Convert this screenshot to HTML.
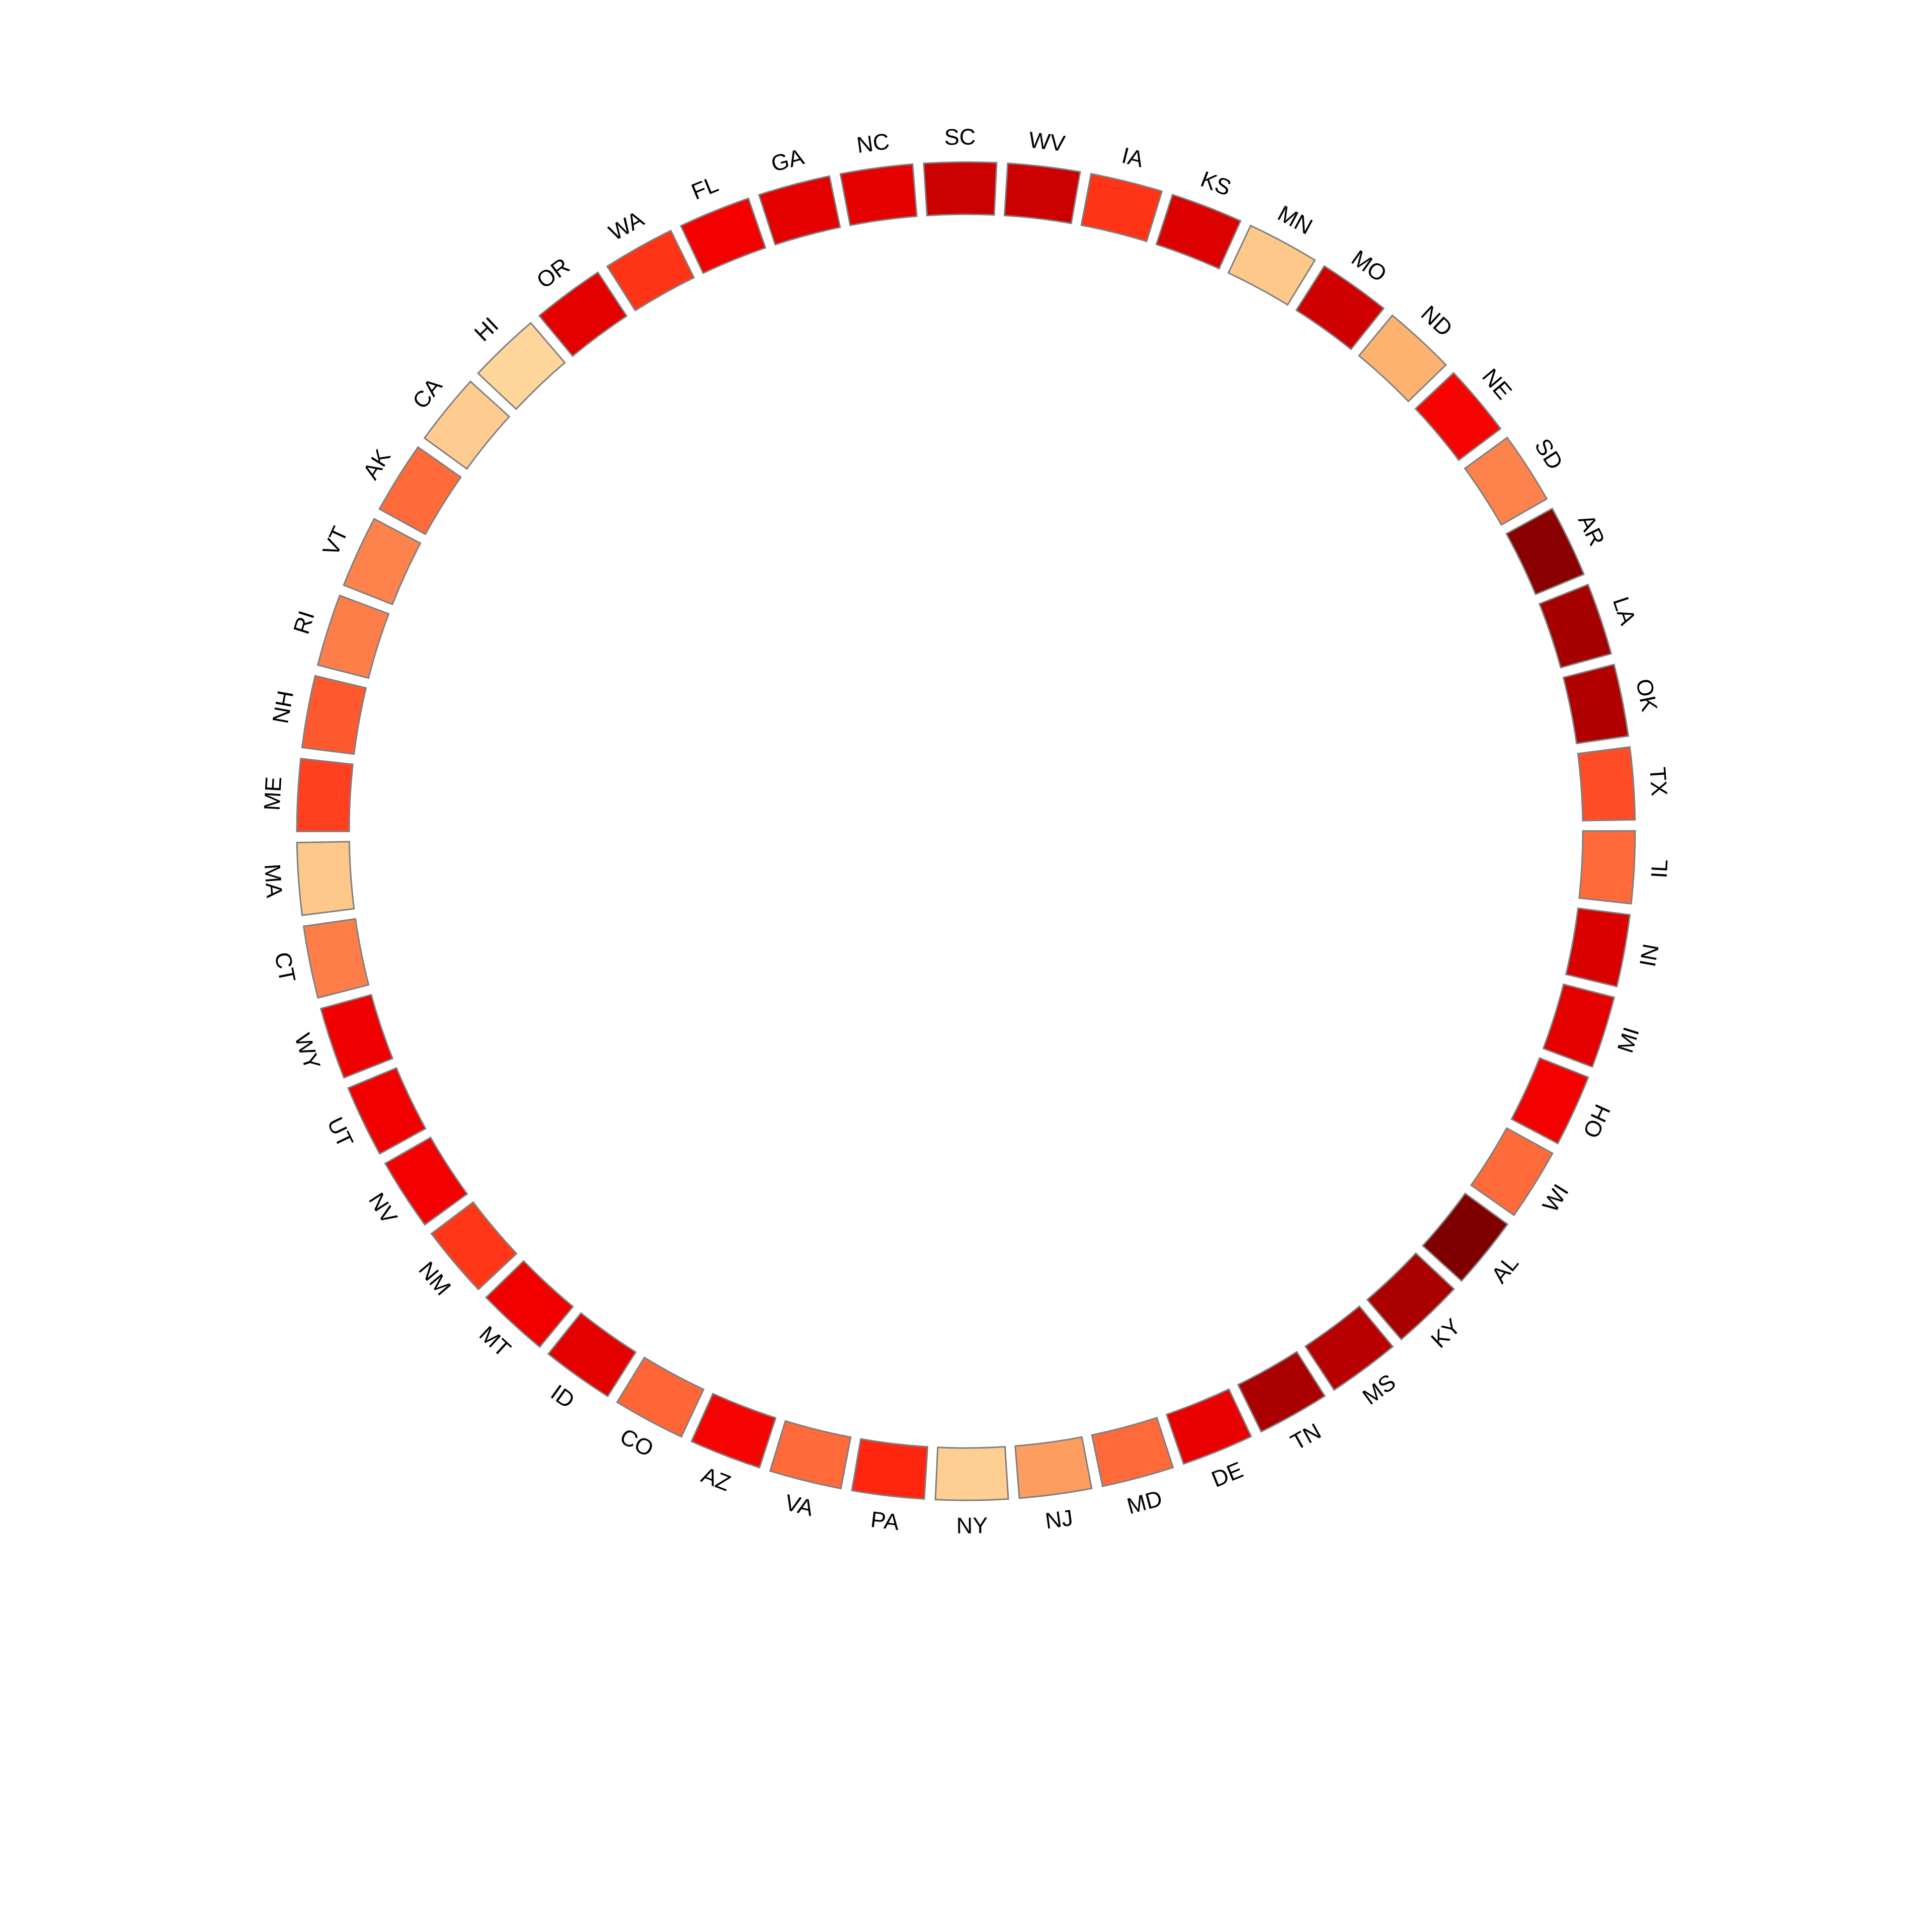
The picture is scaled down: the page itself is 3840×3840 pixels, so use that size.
<!DOCTYPE html>
<html><head><meta charset="utf-8"><style>
html,body{margin:0;padding:0;background:#fff;}
svg{display:block;}
text{font-family:"Liberation Sans",Arial,sans-serif;}
</style></head>
<body>
<svg id="chart" width="3840" height="3840" viewBox="0 0 3840 3840" xmlns="http://www.w3.org/2000/svg">
<rect width="3840" height="3840" fill="#ffffff"/>
<g id="ring"></g>
<g id="labels"></g>
</svg>
<script>
const states = ["SC","WV","IA","KS","MN","MO","ND","NE","SD","AR","LA","OK","TX","IL","IN","MI","OH","WI","AL","KY","MS","TN","DE","MD","NJ","NY","PA","VA","AZ","CO","ID","MT","NM","NV","UT","WY","CT","MA","ME","NH","RI","VT","AK","CA","HI","OR","WA","FL","GA","NC"];
const values = [80,80,53,74,8,78,18,64,33,97,90,87,47,40,75,71,65,40,100,89,85,89,69,40,25,5,56,40,64,41,71,66,52,65,66,67,34,8,50,44,34,33,40,6,2,71,53,65,71,71];
const colorStops = [0,20,40,55,65,80,100];
const colorHex = ["#fed9a0","#fdae6b","#fe6a3a","#ff2a10","#f50000","#cc0000","#800000"];

const CX=1920, CY=1652, R_OUT=1330, R_IN=1226, R_LAB=1380, ROT0=-0.5, GAP=0.95;
function hex2rgb(h){return [1,3,5].map(i=>parseInt(h.substr(i,2),16));}
function colorScale(v){
  for(let i=0;i<colorStops.length-1;i++){
    if(v<=colorStops[i+1]){
      const t=(v-colorStops[i])/(colorStops[i+1]-colorStops[i]);
      const a=hex2rgb(colorHex[i]),b=hex2rgb(colorHex[i+1]);
      return "rgb("+a.map((x,k)=>Math.round(x+(b[k]-x)*t)).join(",")+")";
    }
  }
  return colorHex[colorHex.length-1];
}
function angleOf(i){return ROT0+i*360/states.length;}
function pt(r,deg){const a=deg*Math.PI/180;return [CX+r*Math.sin(a),CY-r*Math.cos(a)];}
const NS="http://www.w3.org/2000/svg";
const ring=document.getElementById('ring'), labels=document.getElementById('labels');
const step=360/states.length;
states.forEach((s,i)=>{
  const c=angleOf(i), a0=c-step/2+GAP/2, a1=c+step/2-GAP/2;
  const p1=pt(R_OUT,a0),p2=pt(R_OUT,a1),p3=pt(R_IN,a1),p4=pt(R_IN,a0);
  const d=`M${p1[0]},${p1[1]} A${R_OUT},${R_OUT} 0 0 1 ${p2[0]},${p2[1]} L${p3[0]},${p3[1]} A${R_IN},${R_IN} 0 0 0 ${p4[0]},${p4[1]} Z`;
  const path=document.createElementNS(NS,'path');
  path.setAttribute('d',d);
  path.setAttribute('fill',colorScale(values[i]));
  path.setAttribute('stroke','#808080');
  path.setAttribute('stroke-width','3');
  
  
  ring.appendChild(path);
  const lp=pt(R_LAB,c);
  let rot=((c%360)+360)%360;
  if(rot>90&&rot<270) rot=rot-180;
  const t=document.createElementNS(NS,'text');
  t.setAttribute('x',lp[0]);t.setAttribute('y',lp[1]);
  t.setAttribute('text-anchor','middle');
  t.setAttribute('dominant-baseline','central');
  t.setAttribute('font-size','45');
  t.setAttribute('fill','#000');
  t.setAttribute('transform',`rotate(${rot} ${lp[0]} ${lp[1]})`);
  
  
  t.textContent=s;
  labels.appendChild(t);
});
</script>
</body></html>
